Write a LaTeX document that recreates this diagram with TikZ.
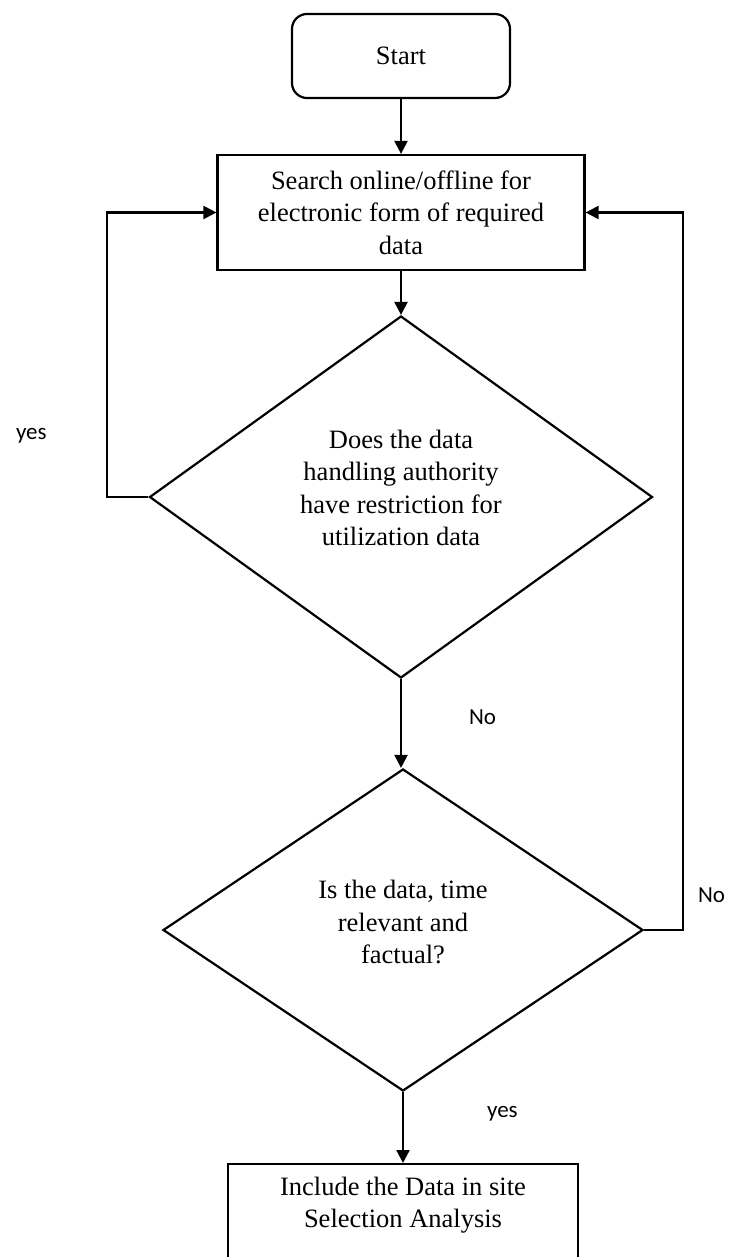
\documentclass[tikz,border=0pt]{standalone}
\usepackage{fontspec}
\setmainfont{Liberation Serif}
\newfontfamily\labelfont{Carlito}
\usetikzlibrary{shapes.geometric,arrows.meta}

\begin{document}
\begin{tikzpicture}[x=1pt,y=-1pt,
  line width=2.2pt,
  every node/.style={inner sep=0pt},
  flowtext/.style={font=\fontsize{26.5}{32.5}\selectfont, align=center},
  box/.style={draw, line width=2.2pt, flowtext},
  terminal/.style={box, rounded corners=15pt},
  decision/.style={draw, diamond, line width=2.2pt},
  link/.style={-{Triangle[length=13pt,width=13pt]}, line width=2.2pt},
  tag/.style={font=\labelfont\fontsize{23}{27}\selectfont, anchor=base west}]
\useasboundingbox (0,0) rectangle (728,1257);
\clip (0,0) rectangle (728,1257);

% process steps
\node (start) [terminal, minimum width=218pt, minimum height=84pt] at (401,56) {Start};
\node (search) [box, minimum width=367pt, minimum height=115pt] at (401,212.5)
  {Search online/offline for\\electronic form of required\\data};

% decisions
\node (d1) [decision, minimum width=503pt, minimum height=362pt] at (401,497) {};
\node (d1text) [flowtext] at (401,488)
  {Does the data\\handling authority\\have restriction for\\utilization data};
\node (d2) [decision, minimum width=480pt, minimum height=322pt] at (403,930) {};
\node (d2text) [flowtext] at (403,922) {Is the data, time\\relevant and\\factual?};

% final step (runs past the lower edge)
\node (fin) [draw, line width=2.2pt, minimum width=350pt, minimum height=130pt, anchor=north] at (403,1163) {};
\node (fintext) [flowtext] at (403,1205) {Include the Data in site\\Selection Analysis};

% return rails
\coordinate (leftrail) at (107,0);
\coordinate (rightrail) at (683,0);

% connectors
\draw[link] (start.south) -- (start.south |- search.north);
\draw[link] (search.south) -- (search.south |- d1.north);
\draw[link] (d1.south) -- (d1.south |- d2.north);
\draw[link] (d2.south) -- (d2.south |- fin.north);
\draw[link] (d1.west) -- (d1.west -| leftrail) |- (search.west);
\draw[link] (d2.east) -- (d2.east -| rightrail) |- (search.east);

% branch labels
\node (yesloop) [tag] at (15,439) {yes};
\node (nodown) [tag] at (468,724) {No};
\node (noloop) [tag] at (697,902) {No};
\node (yesdown) [tag] at (486,1117) {yes};
\end{tikzpicture}
\end{document}
